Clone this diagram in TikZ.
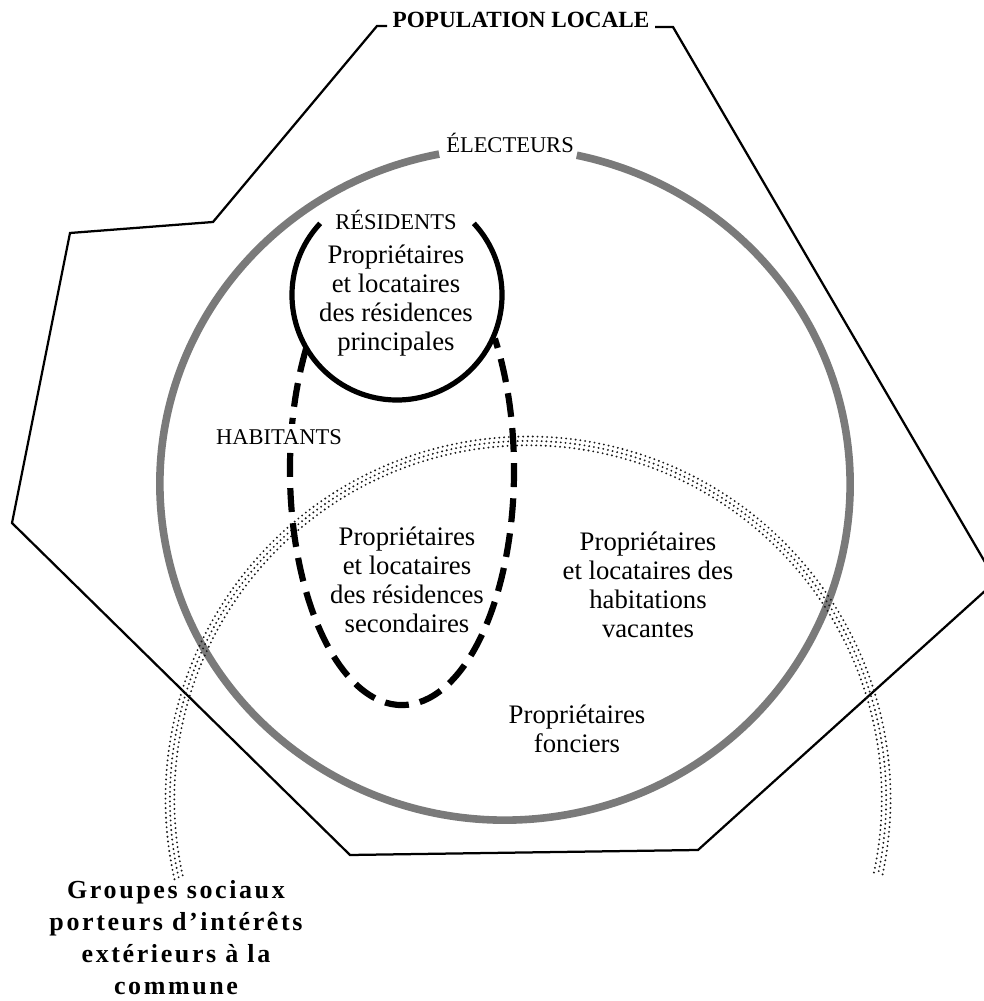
\documentclass[tikz,border=0pt]{standalone}
\usepackage{fontspec}
\setmainfont{Liberation Serif}
\newfontfamily\spacedbf[LetterSpace=10]{Liberation Serif}
\usetikzlibrary{calc}
\begin{document}
\begin{tikzpicture}[x=0.025cm,y=0.025cm,
  poly/.style={line width=1.6pt, line join=miter},
  elect/.style={line width=0.19cm, draw=black!52},
  resid/.style={line width=3.7pt},
  habit/.style={line width=4.4pt, dash pattern=on 17pt off 8pt},
  dotrow/.style={line width=1.5pt, line cap=round, dash pattern=on 0pt off 3.4pt, draw=black!90},
  caps/.style={font=\fontsize{16}{19}\selectfont, inner sep=0pt},
  body/.style={align=center, font=\fontsize{19}{20.6}\selectfont, inner sep=0pt},
  title/.style={font=\bfseries\fontsize{16.5}{19}\selectfont, inner sep=0pt},
  grp/.style={align=center, font=\spacedbf\bfseries\fontsize{18.5}{22.7}\selectfont, inner sep=0pt}]
\useasboundingbox (0,0) rectangle (984,1001);
\clip (0,0) rectangle (984,1001);

\coordinate (E) at (505,517);
\coordinate (R) at (397,706);
\coordinate (H) at (402,531);
\coordinate (G) at (528,202);

% population locale polygon
\draw[poly] (387,975) -- (377,975) -- (213,779) -- (70,768) -- (12,478)
  -- (350,146) -- (698,151) -- (996,420) -- (673,974) -- (655,974);

% electeurs
\draw[elect] ($(E)+(101:8.625cm and 8.4cm)$)
  arc[start angle=101, end angle=438, x radius=8.625cm, y radius=8.4cm];

% groupes sociaux dotted band
\foreach \r/\ph in {8.84/0, 8.95/1.7, 9.06/0}{
  \draw[dotrow, dash phase=\ph pt] ($(G)+(-12:\r cm)$) arc[start angle=-12, end angle=193, radius=\r cm];
}

% habitants dashed loop
\draw[habit] ($(H)+(149:2.8cm and 5.875cm)$)
  arc[start angle=149, end angle=394, x radius=2.8cm, y radius=5.875cm];

% residents circle
\draw[resid] ($(R)+(137:2.625cm)$) arc[start angle=137, end angle=403, radius=2.625cm];

\node[title] (popl) at (521,981) {POPULATION LOCALE};
\node[caps] (elt) at (510,858) {ÉLECTEURS};
\node[caps] (rst) at (396,781) {RÉSIDENTS};
\node[caps, fill=white, inner ysep=4pt, inner xsep=1pt] (hbt) at (279,564) {HABITANTS};
\node[body] (rp) at (396,700) {Propriétaires\\et locataires\\des résidences\\principales};
\node[body] (rs) at (407,421) {Propriétaires\\et locataires\\des résidences\\secondaires};
\node[body] (hv) at (648,416) {Propriétaires\\et locataires des\\habitations\\vacantes};
\node[body] (pf) at (577,272) {Propriétaires\\fonciers};
\node[grp] (grp) at (176,63) {Groupes sociaux\\porteurs d’intérêts\\extérieurs à la\\commune};
\end{tikzpicture}
\end{document}
